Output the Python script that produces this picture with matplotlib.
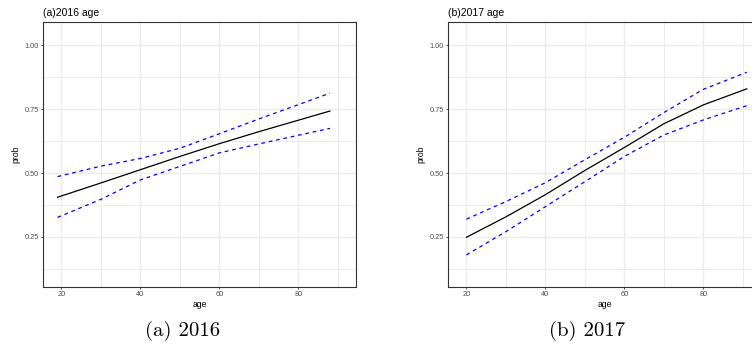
import matplotlib.pyplot as plt
from matplotlib.ticker import MultipleLocator

# Probabilidad estimada por edad (linea central y bandas de confianza)
edad_2016 = [19, 30, 40, 50, 60, 70, 80, 88]
prob_2016 = [0.405, 0.461, 0.513, 0.565, 0.615, 0.662, 0.707, 0.743]
sup_2016 = [0.486, 0.527, 0.557, 0.597, 0.654, 0.712, 0.768, 0.813]
inf_2016 = [0.326, 0.397, 0.473, 0.526, 0.579, 0.614, 0.648, 0.675]

edad_2017 = [20, 30, 40, 50, 60, 70, 80, 91]
prob_2017 = [0.248, 0.328, 0.415, 0.510, 0.600, 0.693, 0.767, 0.830]
sup_2017 = [0.319, 0.388, 0.462, 0.552, 0.640, 0.737, 0.828, 0.895]
inf_2017 = [0.179, 0.270, 0.368, 0.466, 0.565, 0.649, 0.708, 0.764]

titulos = ['(a)2016 age', '(b)2017 age']
leyendas = ['(a) 2016', '(b) 2017']

x_ticks = [20, 40, 60, 80]
y_ticks = [0.25, 0.50, 0.75, 1.00]
y_tick_labels = ['0.25', '0.50', '0.75', '1.00']

color_borde = '#333333'
color_grilla = '#EBEBEB'
color_texto_ejes = '#4D4D4D'
fuente = 'Liberation Sans'

fig = plt.figure(figsize=(7.52, 3.58), dpi=100)

# Posiciones de los paneles (el segundo se corta en el borde derecho)
ax1 = fig.add_axes([0.0576, 0.1983, 0.4158, 0.7402])
ax2 = fig.add_axes([0.5961, 0.1983, 0.4158, 0.7402])

paneles = [
    (ax1, edad_2016, prob_2016, sup_2016, inf_2016),
    (ax2, edad_2017, prob_2017, sup_2017, inf_2017),
]

for i, (ax, x, p, sup, inf) in enumerate(paneles):
    ax.plot(x, sup, color='#0000FF', lw=0.9, linestyle=(0, (3, 3)), zorder=3)
    ax.plot(x, inf, color='#0000FF', lw=0.9, linestyle=(0, (3, 3)), zorder=3)
    ax.plot(x, p, color='black', lw=0.9, zorder=4)

    ax.set_xlim(15.4, 94.6)
    ax.set_ylim(0.053, 1.092)

    ax.set_xticks(x_ticks)
    ax.set_yticks(y_ticks)
    ax.set_yticklabels(y_tick_labels)
    ax.xaxis.set_minor_locator(MultipleLocator(10))
    ax.yaxis.set_minor_locator(MultipleLocator(0.125))

    # Grilla estilo theme_bw
    ax.grid(True, which='major', color=color_grilla, lw=1.0, zorder=0)
    ax.grid(True, which='minor', color=color_grilla, lw=0.7, zorder=0)
    ax.set_axisbelow(True)

    for s in ax.spines.values():
        s.set_color(color_borde)
        s.set_linewidth(0.8)

    ax.tick_params(which='major', length=1.6, width=0.6, color=color_borde, pad=1.5,
                   labelsize=5.3, labelcolor=color_texto_ejes)
    ax.tick_params(which='minor', length=0)
    for lbl in ax.get_xticklabels() + ax.get_yticklabels():
        lbl.set_fontname(fuente)

    ax.set_xlabel('age', fontsize=6.2, fontname=fuente, labelpad=1.5)
    ax.set_ylabel('prob', fontsize=6.2, fontname=fuente, labelpad=3)
    ax.set_title(titulos[i], loc='left', fontsize=7.5, fontname=fuente, pad=4)

# Leyendas de subfigura
fig.text(0.243, 0.075, leyendas[0], ha='center', va='center', fontsize=15, fontfamily='cmr10')
fig.text(0.781, 0.075, leyendas[1], ha='center', va='center', fontsize=15, fontfamily='cmr10')

plt.savefig('out.png', dpi=100)
plt.close('all')
